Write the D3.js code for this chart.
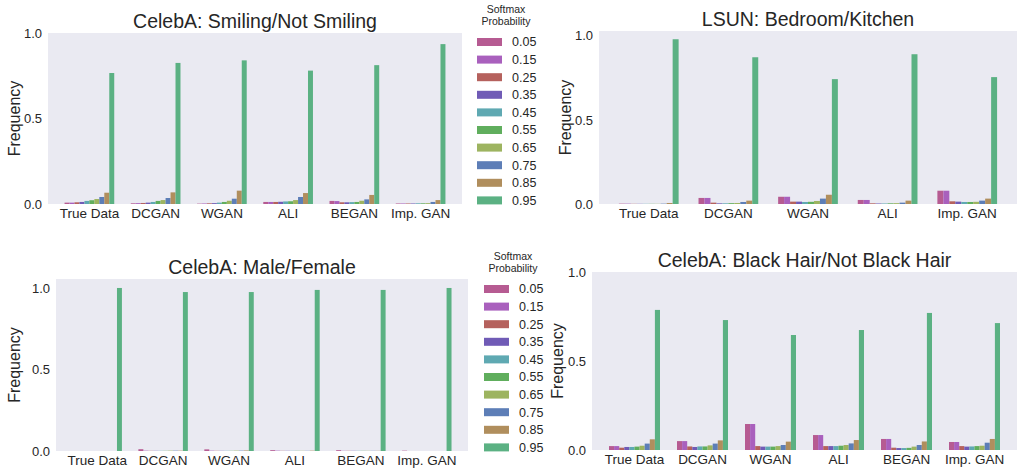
<!DOCTYPE html>
<html>
<head>
<meta charset="utf-8">
<script src="https://cdn.jsdelivr.net/npm/d3@7"></script>
<style>
  body { margin: 0; background: #fff; }
  svg { font-family: "Liberation Sans", Arial, sans-serif; }
</style>
</head>
<body>
<svg id="fig" width="1017" height="469"></svg>
<script>
// softmax probability bins (legend)
var probs = ["0.05", "0.15", "0.25", "0.35", "0.45", "0.55", "0.65", "0.75", "0.85", "0.95"]
var bin_colors = ["#b65b92", "#a960bd", "#b5615d", "#705bb6", "#5fa9b2", "#60ae5d", "#9db460", "#5d7eb7", "#b08e5d", "#5bb183"]

var celeba_models = ["True Data", "DCGAN", "WGAN", "ALI", "BEGAN", "Imp. GAN"]
var lsun_models = ["True Data", "DCGAN", "WGAN", "ALI", "Imp. GAN"]

// one row per model, one value per bin
var smiling = [
  [0.008, 0.008, 0.010, 0.012, 0.018, 0.022, 0.029, 0.041, 0.066, 0.766],
  [0.004, 0.005, 0.006, 0.008, 0.012, 0.018, 0.023, 0.035, 0.068, 0.825],
  [0.002, 0.003, 0.004, 0.005, 0.008, 0.012, 0.019, 0.031, 0.078, 0.840],
  [0.012, 0.012, 0.012, 0.013, 0.015, 0.016, 0.023, 0.041, 0.064, 0.780],
  [0.018, 0.017, 0.010, 0.010, 0.011, 0.012, 0.019, 0.027, 0.053, 0.812],
  [0.003, 0.003, 0.003, 0.003, 0.004, 0.004, 0.005, 0.012, 0.023, 0.935]
]
var bedroom = [
  [0.002, 0.002, 0.001, 0.001, 0.001, 0.001, 0.001, 0.002, 0.006, 0.979],
  [0.036, 0.036, 0.008, 0.004, 0.004, 0.005, 0.006, 0.012, 0.020, 0.872],
  [0.043, 0.043, 0.014, 0.014, 0.012, 0.013, 0.018, 0.032, 0.055, 0.742],
  [0.024, 0.024, 0.004, 0.003, 0.003, 0.004, 0.005, 0.008, 0.020, 0.890],
  [0.079, 0.079, 0.016, 0.014, 0.012, 0.012, 0.013, 0.020, 0.032, 0.754]
]
var male = [
  [0.000, 0.000, 0.000, 0.000, 0.000, 0.000, 0.000, 0.000, 0.000, 1.000],
  [0.011, 0.002, 0.001, 0.001, 0.001, 0.001, 0.002, 0.002, 0.002, 0.975],
  [0.010, 0.002, 0.001, 0.001, 0.001, 0.001, 0.002, 0.002, 0.003, 0.975],
  [0.005, 0.002, 0.001, 0.001, 0.001, 0.001, 0.001, 0.001, 0.002, 0.988],
  [0.005, 0.001, 0.001, 0.001, 0.001, 0.001, 0.001, 0.001, 0.001, 0.988],
  [0.002, 0.000, 0.000, 0.000, 0.000, 0.000, 0.000, 0.000, 0.000, 1.000]
]
var black_hair = [
  [0.022, 0.022, 0.013, 0.017, 0.017, 0.019, 0.024, 0.036, 0.060, 0.787],
  [0.050, 0.050, 0.020, 0.017, 0.020, 0.020, 0.026, 0.036, 0.054, 0.730],
  [0.146, 0.146, 0.022, 0.019, 0.019, 0.019, 0.022, 0.028, 0.047, 0.646],
  [0.084, 0.084, 0.022, 0.022, 0.022, 0.024, 0.028, 0.037, 0.056, 0.674],
  [0.062, 0.062, 0.013, 0.011, 0.011, 0.012, 0.019, 0.028, 0.048, 0.770],
  [0.045, 0.045, 0.022, 0.019, 0.020, 0.022, 0.024, 0.041, 0.062, 0.713]
]

var y_ticks = [0, 0.5, 1.0]

var svg = d3.select("#fig")

function draw_panel(p){
    var g = svg.append("g").attr("transform", `translate(${p.left}, ${p.top})`)
    var width = p.right - p.left,
        height = p.bottom - p.top

    g.append("rect")
        .attr("width", width)
        .attr("height", height)
        .attr("fill", "#eaeaf2")

    var x = d3.scaleBand()
        .domain(p.models)
        .range([0, width])
        .paddingInner(0.25)
        .paddingOuter(0.25)
    var xb = d3.scaleBand()
        .domain(probs)
        .range([0, x.bandwidth()])
    var y = d3.scaleLinear()
        .domain([0, p.ymax])
        .range([height, 0])

    // bars
    var grp = g.selectAll(".grp")
        .data(p.data)
        .join("g")
        .attr("transform", (d, i) => `translate(${x(p.models[i])}, 0)`)
    grp.selectAll("rect")
        .data(d => d.map((v, j) => ({bin: probs[j], value: v, c: bin_colors[j]})))
        .join("rect")
        .attr("x", d => xb(d.bin))
        .attr("y", d => y(d.value))
        .attr("width", xb.bandwidth())
        .attr("height", d => height - y(d.value))
        .attr("fill", d => d.c)

    // axes
    var ya = g.append("g")
        .call(d3.axisLeft(y).tickValues(y_ticks).tickFormat(d3.format(".1f")).tickSize(0).tickPadding(6))
    ya.select(".domain").remove()
    ya.selectAll("text").style("font-size", "13px").style("fill", "#262626")

    var xa = g.append("g")
        .attr("transform", `translate(0, ${height})`)
        .call(d3.axisBottom(x).tickSize(0).tickPadding(4))
    xa.select(".domain").remove()
    xa.selectAll("text").style("font-size", "13.5px").style("fill", "#262626")

    g.append("text")
        .attr("x", width / 2)
        .attr("y", -5)
        .attr("text-anchor", "middle")
        .style("font-size", "19.5px")
        .style("fill", "#262626")
        .text(p.title)

    g.append("text")
        .attr("transform", `translate(${p.ylab_x - p.left}, ${height / 2}) rotate(-90)`)
        .attr("text-anchor", "middle")
        .attr("dy", "0.35em")
        .style("font-size", "16px")
        .style("fill", "#262626")
        .text("Frequency")
}

function draw_legend(lx, ly){
    var lg = svg.append("g").attr("transform", `translate(${lx}, ${ly})`)
    lg.append("text").attr("x", 29).attr("y", 0).attr("text-anchor", "middle")
        .style("font-size", "10.5px").style("fill", "#262626").text("Softmax")
    lg.append("text").attr("x", 29).attr("y", 12).attr("text-anchor", "middle")
        .style("font-size", "10.5px").style("fill", "#262626").text("Probability")
    var row = lg.selectAll(".row")
        .data(probs)
        .join("g")
        .attr("transform", (d, i) => `translate(0, ${29 + i * 17.6})`)
    row.append("rect")
        .attr("x", 0).attr("y", -4)
        .attr("width", 25).attr("height", 8)
        .attr("fill", (d, i) => bin_colors[i])
    row.append("text")
        .attr("x", 35).attr("dy", "0.35em")
        .style("font-size", "12.5px").style("fill", "#262626")
        .text(d => d)
}

draw_panel({title: "CelebA: Smiling/Not Smiling", models: celeba_models, data: smiling,
    left: 48, right: 462, top: 33, bottom: 204, ymax: 1.0, ylab_x: 14})
draw_panel({title: "LSUN: Bedroom/Kitchen", models: lsun_models, data: bedroom,
    left: 599, right: 1017, top: 31, bottom: 204, ymax: 1.028, ylab_x: 565})
draw_panel({title: "CelebA: Male/Female", models: celeba_models, data: male,
    left: 56, right: 468, top: 279, bottom: 451, ymax: 1.055, ylab_x: 14})
draw_panel({title: "CelebA: Black Hair/Not Black Hair", models: celeba_models, data: black_hair,
    left: 592, right: 1017, top: 272, bottom: 450, ymax: 1.0, ylab_x: 557})

draw_legend(477, 13)
draw_legend(484, 260)
</script>
</body>
</html>
